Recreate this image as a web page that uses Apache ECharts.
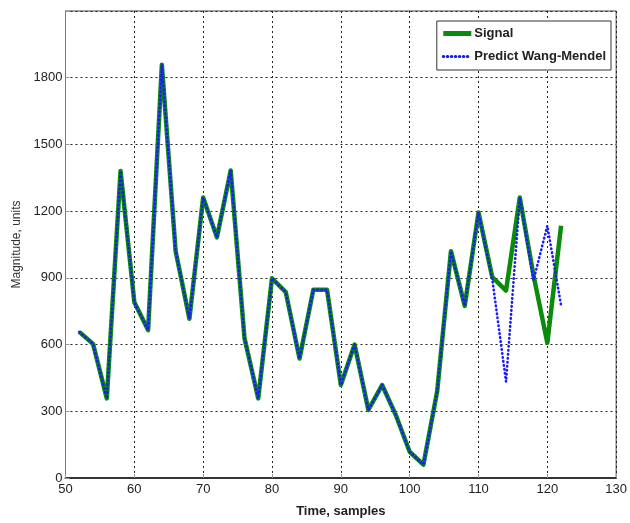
<!DOCTYPE html>
<html>
<head>
<meta charset="utf-8">
<script src="https://cdn.jsdelivr.net/npm/echarts@6/dist/echarts.min.js"></script>
<style>html,body{margin:0;padding:0;background:#fff}#c{width:630px;height:523px}</style>
</head>
<body>
<div id="c"></div>
<script>
const samples = [52,54,56,58,60,62,64,66,68,70,72,74,76,78,80,82,84,86,88,90,92,94,96,98,100,102,104,106,108,110,112,114,116,118,120,122];
const signal = [657,603,358,1381,790,665,1858,1020,716,1261,1082,1383,630,358,898,836,537,846,846,418,600,306,418,282,118,60,390,1020,774,1194,903,843,1261,910,608,1134];
const predict = [657,603,358,1381,790,665,1858,1020,716,1261,1082,1383,630,358,898,836,537,846,846,418,600,306,418,282,118,60,390,1020,774,1194,895,433,1261,890,1134,776];
const xTicks = [50,60,70,80,90,100,110,120,130];
const yTicks = [0,300,600,900,1200,1500,1800];

const chart = echarts.init(document.getElementById('c'), null, {renderer:'canvas'});
const font = 'Liberation Sans, Arial, sans-serif';
chart.setOption({
  animation:false,
  backgroundColor:'#fff',
  grid:{left:65.5,right:12.5,top:11,bottom:43,show:true,borderColor:'#444',borderWidth:1},
  legend:{
    orient:'vertical', right:19, top:21,
    borderColor:'#333', borderWidth:1, backgroundColor:'#fff',
    padding:[6,5,7,4], itemGap:10, itemWidth:28, itemHeight:15,
    itemStyle:{opacity:0},
    textStyle:{fontFamily:font,fontSize:13,fontWeight:'bold',color:'#222',padding:[0,0,0,-2]},
    data:[
      {name:'Signal', lineStyle:{width:5,color:'#0b8a0b'}},
      {name:'Predict Wang-Mendel', lineStyle:{width:3,color:'#1a1aff',type:[0.5,3.5],cap:'round'}}
    ]
  },
  xAxis:{
    type:'value', min:xTicks[0], max:xTicks[xTicks.length-1], interval:10,
    name:'Time, samples', nameLocation:'middle', nameGap:27,
    nameTextStyle:{fontFamily:font,fontSize:13,fontWeight:'bold',color:'#222'},
    axisLine:{show:true,onZero:false,lineStyle:{color:'#333',width:2}},
    axisTick:{show:true,inside:true,length:4,lineStyle:{color:'#999'}},
    axisLabel:{fontFamily:font,fontSize:13,color:'#222',margin:5},
    splitLine:{show:true,lineStyle:{color:'#222',type:[2,3],width:1}}
  },
  yAxis:{
    type:'value', min:0, max:2100, interval:300,
    name:'Magnitude, units', nameLocation:'middle', nameGap:38,
    nameTextStyle:{fontFamily:font,fontSize:12,color:'#333'},
    axisLine:{show:true,lineStyle:{color:'#777',width:1}},
    axisTick:{show:true,inside:true,length:4,lineStyle:{color:'#999'}},
    axisLabel:{fontFamily:font,fontSize:13,color:'#222',margin:3,
      formatter:v=>yTicks.indexOf(v)>=0?String(v):''},
    splitLine:{show:true,lineStyle:{color:'#222',type:[2,3],width:1}}
  },
  series:[
    {name:'Signal',type:'line',symbol:'none',
     data:samples.map((x,i)=>[x,signal[i]]),
     lineStyle:{color:'#0b8a0b',width:4.5,join:'round'},itemStyle:{color:'#0b8a0b'},z:2},
    {name:'Predict Wang-Mendel',type:'line',symbol:'none',
     data:samples.map((x,i)=>[x,predict[i]]),
     lineStyle:{color:'#1a1aff',width:2.6,type:[0.5,3.5],cap:'round'},itemStyle:{color:'#1a1aff'},z:3}
  ]
});
</script>
</body>
</html>
